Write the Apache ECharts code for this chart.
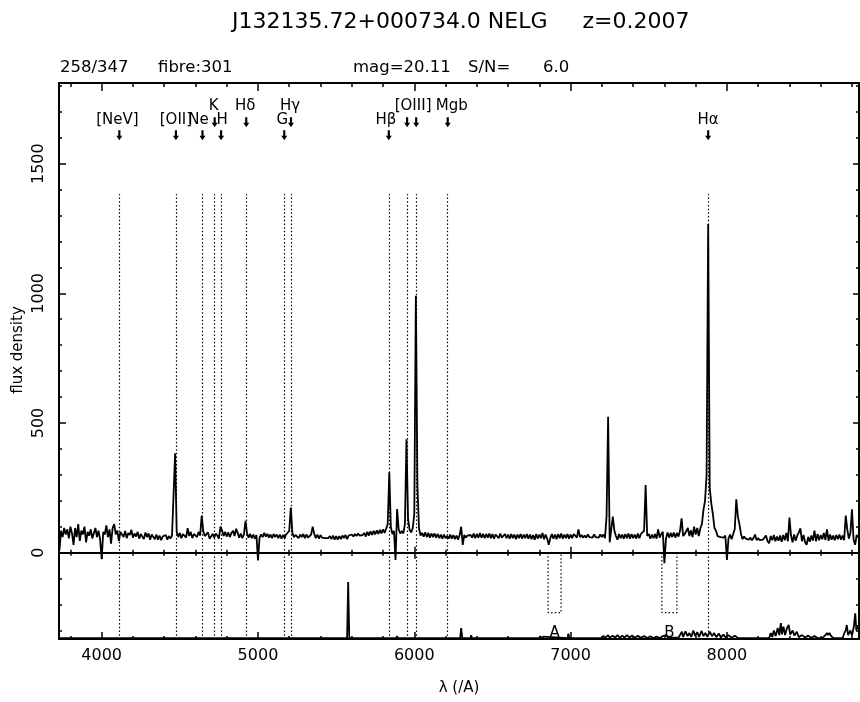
<!DOCTYPE html>
<html><head><meta charset="utf-8">
<script src="https://cdn.jsdelivr.net/npm/echarts@6/dist/echarts.min.js"></script>
<style>html,body{margin:0;padding:0;background:#fff}#c{width:860px;height:702px}</style>
</head><body><div id="c"></div>
<script>
// ---------------- data ----------------
const waveStart = 3730, waveStep = 10;   // sampling grid of the spectrum (Angstrom)
const flux = [
  10,85,60,95,70,90,55,100,75,30,95,60,110,45,85,70,100,40,80,65,
  90,55,75,95,60,85,50,-25,80,70,105,60,90,35,95,110,70,85,45,80,
  78,60,84,56,76,68,88,58,74,62,80,54,72,66,52,78,60,74,50,70,
  64,52,70,50,66,48,62,56,68,50,64,54,66,72,383,80,60,76,56,72,
  76,58,94,64,80,56,72,78,60,80,66,143,82,64,70,78,54,52,72,58,
  74,66,54,100,86,64,80,62,78,60,76,84,64,92,76,58,74,56,70,123,
  74,58,72,56,70,54,68,-30,58,70,60,76,62,72,58,70,56,72,60,70,
  56,70,54,68,56,70,74,84,174,76,60,68,72,56,70,60,72,56,70,58,
  54,70,100,72,56,70,54,68,58,64,56,62,56,64,52,66,50,64,50,64,
  52,66,56,68,52,66,60,70,62,72,64,74,66,72,68,76,62,80,66,82,
  68,84,70,86,72,88,74,90,76,92,110,310,98,72,84,-28,168,90,74,84,
  74,110,437,130,88,78,94,150,991,260,94,66,76,62,78,60,76,58,74,60,
  74,58,72,56,70,54,70,56,64,54,70,54,68,52,66,50,68,100,30,68,
  58,66,60,68,58,74,56,72,58,76,58,72,56,72,58,74,56,72,54,70,
  72,56,74,58,54,72,56,70,54,72,56,70,52,70,56,72,54,70,56,72,
  54,70,52,68,50,72,54,70,56,76,52,70,54,30,56,72,54,70,52,72,
  56,74,54,70,56,72,54,70,56,72,76,58,90,60,68,58,66,58,70,60,
  66,58,70,60,66,58,70,60,70,56,140,524,40,90,139,84,64,50,72,56,
  70,54,72,56,74,54,72,56,70,54,74,56,72,78,84,261,64,72,54,70,
  56,72,54,90,58,72,80,-41,54,78,58,76,60,78,58,76,62,84,132,64,
  72,66,95,64,86,60,100,70,95,64,94,110,165,200,300,1267,250,190,150,96,
  84,64,68,60,64,58,66,-28,54,70,52,72,90,206,139,110,72,52,62,54,
  60,50,58,48,56,70,48,56,48,54,50,58,66,44,36,64,48,68,44,62,
  46,66,42,68,48,76,44,135,66,40,70,46,66,78,94,44,68,40,30,61,
  42,66,46,85,44,72,48,68,52,76,49,90,46,70,50,66,48,68,52,70,
  50,66,48,143,90,54,76,167,52,30,68,60
];
// sky spectrum (offset, lower panel): [wavelength, value]
const skyPoints = [
  [3727,-330],[4985,-330],[4990,-326],[4995,-330],
  [5570,-330],[5577,-113],[5584,-330],
  [5884,-330],[5890,-322],[5896,-330],
  [6293,-330],[6300,-291],[6307,-330],
  [6360,-330],[6364,-318],[6368,-330],[6390,-330],[6394,-324],[6398,-330],
  [6590,-330],[6594,-325],[6598,-330],
  [6800,-330],[6806,-322],[6812,-330],[6826,-324],[6832,-330],
  [6980,-330],[6986,-312],[6992,-330],
  [7200,-330],[7210,-320],[7220,-329],[7240,-318],[7250,-328],[7270,-320],[7285,-328],
  [7300,-318],[7316,-329],[7330,-320],[7345,-328],[7360,-318],[7375,-327],[7395,-320],
  [7410,-328],[7430,-321],[7450,-328],[7470,-322],[7490,-329],[7510,-323],[7530,-329],
  [7550,-324],[7570,-329],[7590,-322],[7600,-329],[7612,-318],[7625,-328],[7690,-328],
  [7700,-330],[7712,-305],[7720,-325],[7735,-303],[7748,-322],[7760,-310],[7772,-325],
  [7785,-300],[7798,-322],[7810,-306],[7822,-325],[7838,-302],[7850,-322],[7862,-310],
  [7875,-325],[7890,-305],[7905,-322],[7918,-310],[7932,-326],[7948,-312],[7962,-327],
  [7978,-316],[7994,-328],[8010,-318],[8030,-328],[8050,-320],[8070,-329],[8100,-330],
  [8270,-330],[8280,-310],[8290,-325],[8300,-300],[8312,-322],[8325,-290],[8335,-318],
  [8345,-272],[8352,-315],[8362,-285],[8372,-318],[8385,-290],[8395,-279],[8405,-316],
  [8420,-300],[8432,-320],[8447,-305],[8460,-326],[8480,-318],[8500,-327],[8520,-320],
  [8540,-328],[8560,-322],[8580,-329],[8610,-330],[8630,-318],[8640,-310],[8648,-318],
  [8656,-310],[8665,-320],[8680,-330],[8740,-330],[8750,-312],[8760,-300],[8767,-279],
  [8775,-318],[8790,-300],[8800,-320],[8812,-285],[8821,-234],[8828,-300],[8836,-280],
  [8842,-290],[8845,-300]
];
// redshifted line positions and their labels
const lineWaves  = [4113, 4475, 4645, 4723, 4764, 4925, 5168, 5211, 5837, 5954, 6012, 6214, 7880];
const lineLabels = ['[NeV]','[OII]','Ne','K','H','Hδ','G','Hγ','Hβ','[OIII]','','Mgb','Hα'];
// telluric absorption bands
const bandEdges  = [[6856, 6939], [7584, 7680]];
const bandLabels = ['A', 'B'];
// tick values
const xMajorTicks = [4000, 5000, 6000, 7000, 8000];
const xMinorTicks = [3800,4200,4400,4600,4800,5200,5400,5600,5800,6200,6400,6600,6800,7200,7400,7600,7800,8200,8400,8600,8800];
const yMajorTicks = [0, 500, 1000, 1500];
const yMinorTicks = [-300,-200,-100,100,200,300,400,600,700,800,900,1100,1200,1300,1400,1600,1700,1800];
// header texts
const titleText = 'J132135.72+000734.0 NELG     z=0.2007';
const headerTexts = ['258/347', 'fibre:301', 'mag=20.11', 'S/N=', '6.0'];

// ---------------- layout (not data) ----------------
const xMin = 3727, xMax = 8845, yMin = -333, yMax = 1811;
const lineRow   = [0,0,0,1,0,1,0,1,0,1,1,1,0];     // 0 = lower row, 1 = upper row
const labelDx   = [-2,0,-4,-1,1,-1,-2,-1,-3,6,0,4,0];
const rowLabelY = [1668, 1720];
const rowArrowY = [1610, 1660];
const dottedTop = 1383, dottedBottom = -320, bandBottom = -231, bandLabelY = -310;
const headerX = [60, 158, 353, 468, 543];
const F = 'DejaVu Sans';
const K = '#000';
const CLEAR = 'rgba(0,0,0,0)';

const spectrum = flux.map((v, i) => [waveStart + i * waveStep, v]);

function mkX(o) {
  return Object.assign({
    type: 'value', min: xMin, max: xMax, splitLine: { show: false },
    axisLine: { show: false, onZero: false }, axisTick: { show: false }, axisLabel: { show: false }
  }, o);
}
function mkY(o) {
  return Object.assign({
    type: 'value', min: yMin, max: yMax, splitLine: { show: false },
    axisLine: { show: false, onZero: false }, axisTick: { show: false }, axisLabel: { show: false }
  }, o);
}
const LS = { color: K, width: 2 };
const TS = { color: K, width: 1.5 };
function tick(vals, len, inside) { return { show: true, inside: inside, length: len, customValues: vals, lineStyle: TS }; }
const plain = v => String(v);

const xAxes = [
  mkX({ position: 'bottom', axisLine: { show: true, onZero: false, lineStyle: LS }, axisTick: tick(xMajorTicks, 7, true),
        axisLabel: { show: true, customValues: xMajorTicks, formatter: plain, color: K, fontSize: 16, fontFamily: F, margin: 9 },
        name: 'λ (/A)', nameLocation: 'middle', nameGap: 42, nameTextStyle: { color: K, fontSize: 15, fontFamily: F } }),
  mkX({ position: 'bottom', axisTick: tick(xMinorTicks, 3, true) }),
  mkX({ position: 'top', axisLine: { show: true, onZero: false, lineStyle: LS }, axisTick: tick(xMajorTicks, 8, true) }),
  mkX({ position: 'top', axisTick: tick(xMinorTicks, 4, true) }),
  mkX({ position: 'bottom', axisLine: { show: true, onZero: true, onZeroAxisIndex: 0, lineStyle: LS }, axisTick: tick(xMajorTicks, 6, true) }),
  mkX({ position: 'bottom', axisLine: { show: false, onZero: true, onZeroAxisIndex: 0 }, axisTick: tick(xMajorTicks, 6, false) }),
  mkX({ position: 'bottom', axisLine: { show: false, onZero: true, onZeroAxisIndex: 0 }, axisTick: tick(xMinorTicks, 3, true) }),
  mkX({ position: 'bottom', axisLine: { show: false, onZero: true, onZeroAxisIndex: 0 }, axisTick: tick(xMinorTicks, 3, false) })
];
const yAxes = [
  mkY({ position: 'left', axisLine: { show: true, onZero: false, lineStyle: LS }, axisTick: tick(yMajorTicks, 7, true),
        axisLabel: { show: true, customValues: yMajorTicks, formatter: plain, rotate: 90, color: K, fontSize: 16, fontFamily: F, margin: 12 } }),
  mkY({ position: 'left', axisTick: tick(yMinorTicks, 3, true) }),
  mkY({ position: 'right', axisLine: { show: true, onZero: false, lineStyle: LS }, axisTick: tick(yMajorTicks, 6, true) }),
  mkY({ position: 'right', axisTick: tick(yMinorTicks, 3, true) })
];

const labelData = lineWaves.map((w, i) => ({
  value: [w, rowLabelY[lineRow[i]]], name: lineLabels[i],
  label: { offset: [labelDx[i], 0] }
})).filter(d => d.name !== '');
const arrowData = lineWaves.map((w, i) => [w, rowArrowY[lineRow[i]]]);
const textLabel = { show: true, position: 'inside', formatter: p => p.name, color: K, opacity: 1, fontSize: 15, fontFamily: F };

const series = [
  { type: 'line', name: 'spectrum', data: spectrum, showSymbol: false, symbol: 'none',
    lineStyle: { color: K, width: 1.8 }, z: 5,
    markLine: { symbol: 'none', silent: true, animation: false, label: { show: false },
      lineStyle: { color: K, width: 1.2, type: [1.5, 2.2] },
      data: lineWaves.map(w => [{ coord: [w, dottedBottom] }, { coord: [w, dottedTop] }]) } },
  { type: 'line', name: 'sky', data: skyPoints, showSymbol: false, symbol: 'none', lineStyle: { color: K, width: 1.8 }, z: 5 },
  ...bandEdges.map(b => ({ type: 'line', data: [[b[0], 0], [b[0], bandBottom], [b[1], bandBottom], [b[1], 0]],
    showSymbol: false, symbol: 'none', lineStyle: { color: K, width: 1.2, type: [1.5, 2.2] }, z: 3 })),
  { type: 'scatter', symbol: 'circle', symbolSize: 1, itemStyle: { color: CLEAR, opacity: 1 },
    data: bandEdges.map((b, i) => ({ value: [(b[0] + b[1]) / 2, bandLabelY], name: bandLabels[i] })),
    label: textLabel, z: 6 },
  { type: 'scatter', symbol: 'circle', symbolSize: 1, itemStyle: { color: CLEAR, opacity: 1 }, data: labelData, label: textLabel, z: 6 },
  { type: 'scatter', symbol: 'path://M1.6,0 L3.4,0 L3.4,5.5 L5,5.5 L2.5,10 L0,5.5 L1.6,5.5 Z', symbolSize: [6, 10],
    itemStyle: { color: K, opacity: 1 }, data: arrowData, z: 6 }
];

const graphic = [
  { type: 'text', x: 232, y: 22, style: { text: titleText, fill: K, font: '22px "DejaVu Sans"', textVerticalAlign: 'middle' } },
  ...headerTexts.map((t, i) => ({ type: 'text', x: headerX[i], y: 68,
    style: { text: t, fill: K, font: '16.5px "DejaVu Sans"', textVerticalAlign: 'middle' } })),
  { type: 'text', x: 18, y: 350, rotation: Math.PI / 2,
    style: { text: 'flux density', fill: K, font: '15px "DejaVu Sans"', textAlign: 'center', textVerticalAlign: 'middle' } }
];

const chart = echarts.init(document.getElementById('c'), null, { renderer: 'canvas' });
chart.setOption({
  animation: false,
  backgroundColor: '#fff',
  grid: { left: 59, right: 1, top: 83, bottom: 63, containLabel: false },
  xAxis: xAxes, yAxis: yAxes,
  series: series.map(s => Object.assign({ xAxisIndex: 0, yAxisIndex: 0, silent: true }, s)),
  graphic: graphic
});
</script></body></html>
